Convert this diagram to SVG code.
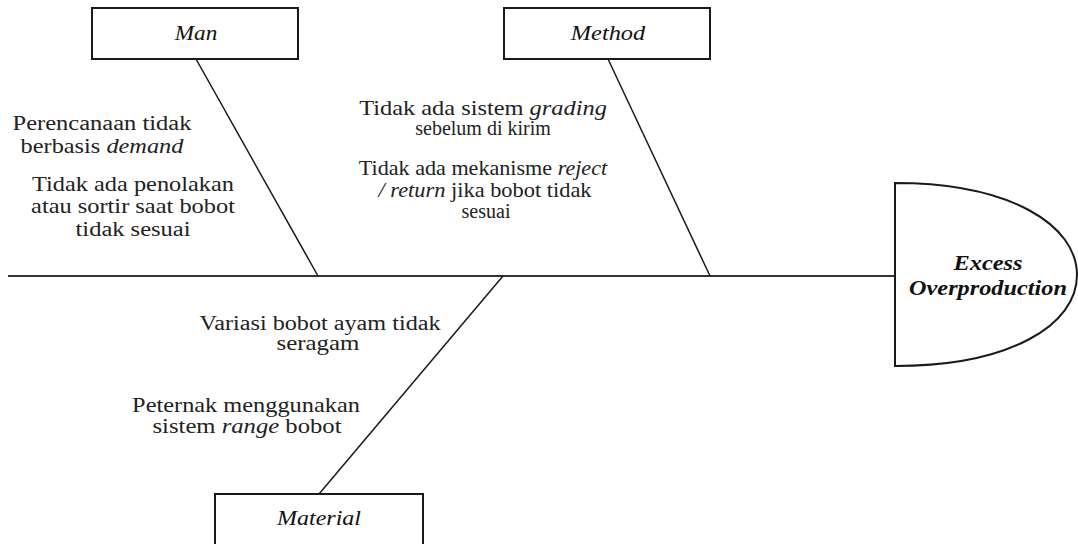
<svg xmlns="http://www.w3.org/2000/svg" width="1078" height="544" viewBox="0 0 1078 544">
  <style>
    .box { fill: #ffffff; stroke: #1a1a1a; stroke-width: 2; }
    .bone { fill: none; stroke: #1a1a1a; stroke-width: 1.5; }
    .spine { fill: none; stroke: #333333; stroke-width: 1.8; }
    text { font-family: 'Liberation Serif', serif; text-anchor: middle; }
    .cause { font-size: 20px; fill: #222222; }
    .cat { font-size: 20px; font-style: italic; fill: #111111; }
    .effect { font-size: 20px; font-style: italic; font-weight: bold; fill: #111111; }
    .it { font-style: italic; }
  </style>
  <rect width="1078" height="544" fill="#ffffff"/>

  <!-- bones of the fishbone -->
  <g id="connectors">
    <line class="spine" x1="8" y1="276" x2="895" y2="276"/>
    <line class="bone" x1="196" y1="59" x2="318" y2="276"/>
    <line class="bone" x1="608" y1="59" x2="710" y2="276"/>
    <line class="bone" x1="319" y1="494" x2="503" y2="276"/>
  </g>

  <!-- category: Man -->
  <g id="man">
    <rect class="box" x="92" y="8" width="206" height="51"/>
    <text class="cat" transform="translate(196 40) scale(1.16 1)">Man</text>
  </g>

  <!-- category: Method -->
  <g id="method">
    <rect class="box" x="504" y="8" width="206" height="51"/>
    <text class="cat" transform="translate(608 40) scale(1.22 1)">Method</text>
  </g>

  <!-- category: Material -->
  <g id="material">
    <rect class="box" x="215" y="494" width="208" height="52"/>
    <text class="cat" transform="translate(319 525) scale(1.2 1)">Material</text>
  </g>

  <!-- effect head -->
  <g id="effect">
    <path class="box" d="M895,183 C1010,183 1077,225 1077,275 C1077,325 1010,366 895,366 Z"/>
    <text class="effect" transform="translate(988 270) scale(1.22 1)">Excess</text>
    <text class="effect" transform="translate(988 295) scale(1.215 1)">Overproduction</text>
  </g>

  <!-- causes under Man -->
  <g id="man-causes">
    <text class="cause" transform="translate(102 130) scale(1.225 1)">Perencanaan tidak</text>
    <text class="cause" transform="translate(102 153) scale(1.217 1)">berbasis <tspan class="it">demand</tspan></text>
    <text class="cause" transform="translate(133 191) scale(1.218 1)">Tidak ada penolakan</text>
    <text class="cause" transform="translate(133 213) scale(1.22 1)">atau sortir saat bobot</text>
    <text class="cause" transform="translate(133 236) scale(1.225 1)">tidak sesuai</text>
  </g>

  <!-- causes under Method -->
  <g id="method-causes">
    <text class="cause" transform="translate(483 115) scale(1.22 1)">Tidak ada sistem <tspan class="it">grading</tspan></text>
    <text class="cause" transform="translate(483 135)">sebelum di kirim</text>
    <text class="cause" transform="translate(483 175) scale(1.106 1)">Tidak ada mekanisme <tspan class="it">reject</tspan></text>
    <text class="cause" transform="translate(485 197) scale(1.12 1)"><tspan class="it">/ return</tspan> jika bobot tidak</text>
    <text class="cause" transform="translate(486 218)">sesuai</text>
  </g>

  <!-- causes under Material -->
  <g id="material-causes">
    <text class="cause" transform="translate(320 330) scale(1.21 1)">Variasi bobot ayam tidak</text>
    <text class="cause" transform="translate(318 350) scale(1.246 1)">seragam</text>
    <text class="cause" transform="translate(246 412) scale(1.218 1)">Peternak menggunakan</text>
    <text class="cause" transform="translate(247 433) scale(1.233 1)">sistem <tspan class="it">range</tspan> bobot</text>
  </g>
</svg>
